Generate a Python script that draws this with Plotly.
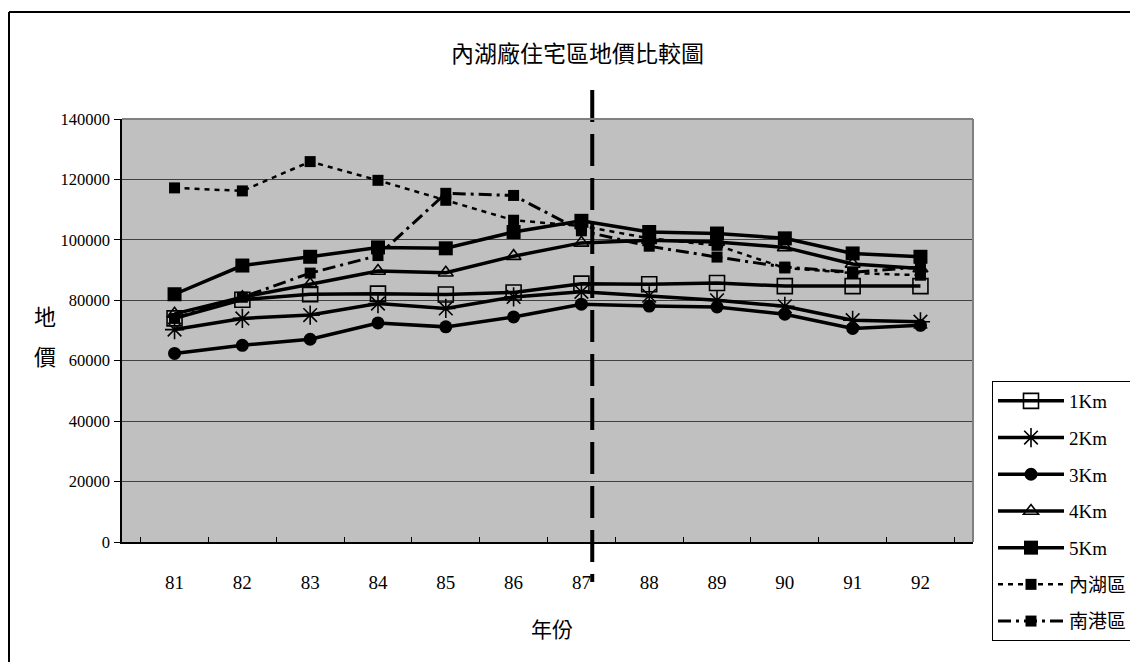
import plotly.graph_objects as go

# Years (ROC calendar) on the category axis
years = ["81", "82", "83", "84", "85", "86", "87", "88", "89", "90", "91", "92"]

# Land price by distance ring
price_1km = [74000, 80200, 82000, 82200, 81900, 82600, 85500, 85300, 85700, 84700, 84700, 84700]
price_2km = [70300, 74000, 75100, 78900, 77300, 81100, 82800, 81500, 80000, 78000, 73400, 72900]
price_3km = [62400, 65100, 67100, 72500, 71200, 74500, 78700, 78100, 77800, 75400, 70700, 71700]
price_4km = [75500, 81000, 85300, 89700, 89100, 94600, 99000, 99900, 99300, 97500, 92000, 90500]
price_5km = [82000, 91500, 94400, 97500, 97200, 102600, 106300, 102600, 102100, 100500, 95500, 94400]
# District averages
price_neihu = [117200, 116200, 125900, 119700, 113100, 106500, 104600, 100500, 98200, 90700, 89000, 88300]
price_nangang = [74000, 81000, 89000, 94800, 115400, 114700, 103000, 97900, 94300, 91000, 89300, 91000]

series_names = ["1Km", "2Km", "3Km", "4Km", "5Km", "內湖區", "南港區"]

# Value axis ticks
y_ticks = [0, 20000, 40000, 60000, 80000, 100000, 120000, 140000]
y_tick_labels = [str(v) for v in y_ticks]

# Vertical marker position (category index)
marker_year_pos = 6.16

W, H = 1130, 662
L, R, T, B = 122, 157, 119, 120
PW, PH = W - L - R, H - T - B


def px_x(px):
    return (px - L) / PW


def px_y(py):
    return (H - B - py) / PH


fig = go.Figure()

solid_specs = [
    (price_1km, "square-open", 15, 1.6),
    (price_2km, "asterisk-open", 16, 1.6),
    (price_3km, "circle", 13, 0),
    (price_4km, "triangle-up-open", 13, 1.6),
    (price_5km, "square", 14, 0),
]
for name, (vals, sym, size, lw) in zip(series_names[:5], solid_specs):
    fig.add_trace(go.Scatter(
        x=years, y=vals, name=name, mode="lines+markers",
        line=dict(color="black", width=3.5),
        marker=dict(symbol=sym, size=size, color="black",
                    line=dict(color="black", width=lw)),
        legendgroup=name,
    ))

fig.add_trace(go.Scatter(
    x=years, y=price_neihu, name=series_names[5], mode="lines+markers",
    line=dict(color="black", width=2.5, dash="5px,5px"),
    marker=dict(symbol="square", size=11, color="black"),
    legendgroup=series_names[5],
))
fig.add_trace(go.Scatter(
    x=years, y=price_nangang, name=series_names[6], mode="lines+markers",
    line=dict(color="black", width=3, dash="13px,5px,3px,5px"),
    marker=dict(symbol="square", size=11, color="black"),
    legendgroup=series_names[6],
))

shapes = [
    # vertical dashed marker line
    dict(type="line", xref="x", yref="paper",
         x0=marker_year_pos, x1=marker_year_pos, y0=px_y(90), y1=px_y(582),
         line=dict(color="black", width=4, dash="32px,12px"), layer="above"),
    # plot area top/right border
    dict(type="line", xref="paper", yref="paper", x0=0, x1=1, y0=1, y1=1,
         line=dict(color="#808080", width=2)),
    dict(type="line", xref="paper", yref="paper", x0=1, x1=1, y0=0, y1=1,
         line=dict(color="#808080", width=2)),
    # chart frame
    dict(type="line", xref="paper", yref="paper",
         x0=px_x(9), x1=px_x(1135), y0=px_y(12), y1=px_y(12),
         line=dict(color="black", width=2)),
    dict(type="line", xref="paper", yref="paper",
         x0=px_x(9), x1=px_x(9), y0=px_y(12), y1=px_y(670),
         line=dict(color="black", width=2)),
]

serif = "Liberation Serif, Noto Sans CJK TC"
cjk = "Noto Sans CJK TC, Noto Sans CJK SC"

annotations = [
    dict(text="內湖廠住宅區地價比較圖", xref="paper", yref="paper",
         x=px_x(577), y=px_y(52), xanchor="center", yanchor="middle",
         showarrow=False, font=dict(family=cjk, size=23, color="black")),
    dict(text="地", xref="paper", yref="paper",
         x=px_x(45), y=px_y(315), xanchor="center", yanchor="middle",
         showarrow=False, font=dict(family=cjk, size=22, color="black")),
    dict(text="價", xref="paper", yref="paper",
         x=px_x(45), y=px_y(355), xanchor="center", yanchor="middle",
         showarrow=False, font=dict(family=cjk, size=22, color="black")),
    dict(text="年份", xref="paper", yref="paper",
         x=px_x(552), y=px_y(628), xanchor="center", yanchor="middle",
         showarrow=False, font=dict(family=cjk, size=21, color="black")),
]

fig.update_layout(
    width=W, height=H,
    margin=dict(l=L, r=R, t=T, b=B, pad=0, autoexpand=False),
    paper_bgcolor="white",
    plot_bgcolor="#c0c0c0",
    showlegend=True,
    legend=dict(
        x=px_x(992), y=px_y(381), xanchor="left", yanchor="top",
        bgcolor="white", bordercolor="black", borderwidth=1,
        font=dict(family=serif, size=19, color="black"),
        itemwidth=66, tracegroupgap=9, traceorder="grouped",
    ),
    xaxis=dict(
        type="category", showgrid=False, showline=True, linecolor="black",
        linewidth=1.5, ticks="inside", tickson="boundaries", ticklen=5,
        tickcolor="black", ticklabelstandoff=22,
        tickfont=dict(family=serif, size=19, color="black"),
    ),
    yaxis=dict(
        range=[0, 140000], tickvals=y_ticks, ticktext=y_tick_labels,
        showgrid=True, gridcolor="#404040", gridwidth=1,
        showline=True, linecolor="black", linewidth=1.5,
        ticks="outside", ticklen=6, tickcolor="black", ticklabelstandoff=1,
        tickfont=dict(family=serif, size=16.5, color="black"),
        zeroline=False,
    ),
    shapes=shapes,
    annotations=annotations,
)

fig.write_html("out.html")
